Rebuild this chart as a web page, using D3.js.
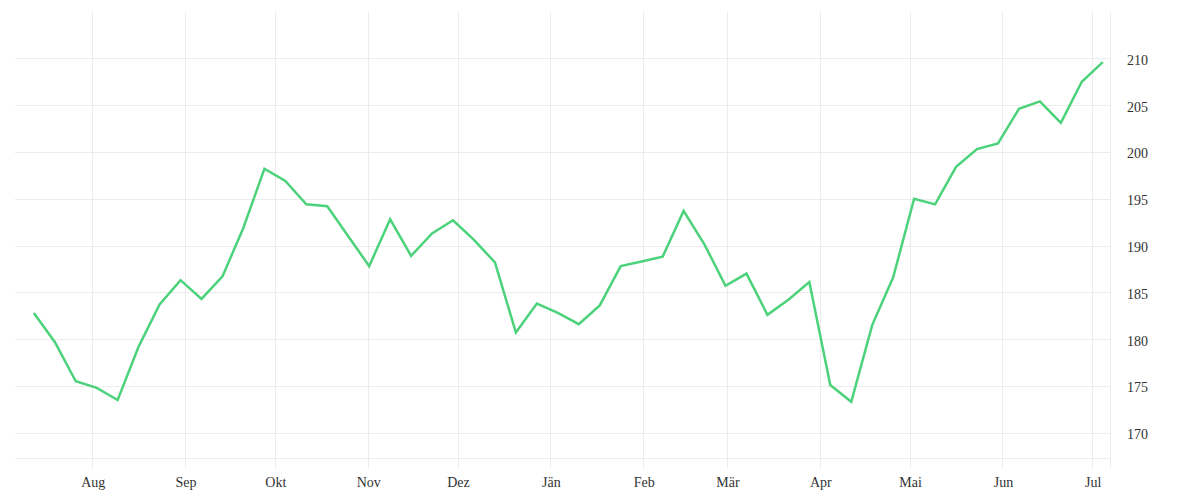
<html><head><title>Weekly line</title>
<meta charset="UTF-8">
<script src="https://cdn.jsdelivr.net/npm/d3@7"></script>
<style>
  body { margin: 0; background: #fff; }
  svg text { font-family: "Liberation Serif", serif; font-size: 14px; fill: #333; }
</style>
</head>
<body>
<div id="chart"></div>
<script>
  // weekly values
  const dates = [
    "2018-07-12","2018-07-19","2018-07-26","2018-08-02","2018-08-09","2018-08-16","2018-08-23","2018-08-30",
    "2018-09-06","2018-09-13","2018-09-20","2018-09-27","2018-10-04","2018-10-11","2018-10-18","2018-10-25",
    "2018-11-01","2018-11-08","2018-11-15","2018-11-22","2018-11-29","2018-12-06","2018-12-13","2018-12-20",
    "2018-12-27","2019-01-03","2019-01-10","2019-01-17","2019-01-24","2019-01-31","2019-02-07","2019-02-14",
    "2019-02-21","2019-02-28","2019-03-07","2019-03-14","2019-03-21","2019-03-28","2019-04-04","2019-04-11",
    "2019-04-18","2019-04-25","2019-05-02","2019-05-09","2019-05-16","2019-05-23","2019-05-30","2019-06-06",
    "2019-06-13","2019-06-20","2019-06-27","2019-07-04"
  ];
  const values = [
    182.8, 179.7, 175.5, 174.8, 173.5, 179.2, 183.7, 186.3,
    184.3, 186.7, 191.9, 198.2, 196.9, 194.4, 194.2, 191.0,
    187.8, 192.8, 188.9, 191.3, 192.7, 190.6, 188.2, 180.7,
    183.8, 182.8, 181.6, 183.6, 187.8, 188.3, 188.8, 193.7,
    190.1, 185.7, 187.0, 182.6, 184.2, 186.1, 175.1, 173.3,
    181.5, 186.6, 195.0, 194.4, 198.4, 200.3, 200.9, 204.6,
    205.4, 203.1, 207.5, 209.6
  ];
  const yTicks = [170, 175, 180, 185, 190, 195, 200, 205, 210];
  const monthNames = ["Jän","Feb","Mär","Apr","Mai","Jun","Jul","Aug","Sep","Okt","Nov","Dez"];

  const width = 1200, height = 500;
  const plotLeft = 15, plotRight = 1110, plotTop = 12, plotBottom = 458;

  const parse = d3.timeParse("%Y-%m-%d");
  const data = dates.map((d, i) => ({ date: d3.timeHour.offset(parse(d), 12), value: values[i] }));

  const x = d3.scaleTime()
    .domain([new Date(2018, 6, 6, 5), new Date(2019, 6, 6, 22)])
    .range([plotLeft, plotRight]);
  const y = d3.scaleLinear()
    .domain([167.3, 214.95])
    .range([plotBottom, plotTop]);

  const svg = d3.select("#chart").append("svg")
    .attr("width", width)
    .attr("height", height);

  const grid = "#ececec";

  // horizontal grid
  svg.append("g").selectAll("line")
    .data(yTicks)
    .enter().append("line")
    .attr("x1", plotLeft).attr("x2", plotRight)
    .attr("y1", d => Math.round(y(d)) + 0.5)
    .attr("y2", d => Math.round(y(d)) + 0.5)
    .attr("stroke", grid);

  // bottom line
  svg.append("line")
    .attr("x1", plotLeft).attr("x2", plotRight)
    .attr("y1", plotBottom + 0.5).attr("y2", plotBottom + 0.5)
    .attr("stroke", grid);

  // vertical grid at months
  const months = x.ticks(d3.timeMonth.every(1));
  svg.append("g").selectAll("line")
    .data(months)
    .enter().append("line")
    .attr("x1", d => Math.round(x(d)) + 0.5)
    .attr("x2", d => Math.round(x(d)) + 0.5)
    .attr("y1", plotTop).attr("y2", plotBottom + 10)
    .attr("stroke", grid);

  // right edge
  svg.append("line")
    .attr("x1", plotRight + 0.5).attr("x2", plotRight + 0.5)
    .attr("y1", plotTop).attr("y2", plotBottom + 10)
    .attr("stroke", grid);

  // month labels
  svg.append("g").selectAll("text")
    .data(months)
    .enter().append("text")
    .attr("x", d => x(d) + 1)
    .attr("y", 487)
    .attr("text-anchor", "middle")
    .text(d => monthNames[d.getMonth()]);

  // y labels
  svg.append("g").selectAll("text")
    .data(yTicks)
    .enter().append("text")
    .attr("x", 1127)
    .attr("y", d => y(d) + 6.5)
    .text(d => d);

  const line = d3.line()
    .x(d => x(d.date))
    .y(d => y(d.value));

  svg.append("path")
    .datum(data)
    .attr("d", line)
    .attr("fill", "none")
    .attr("stroke", "#4cd27b")
    .attr("stroke-width", 2.5)
    .attr("stroke-linejoin", "miter");
</script>
</body>
</html>
